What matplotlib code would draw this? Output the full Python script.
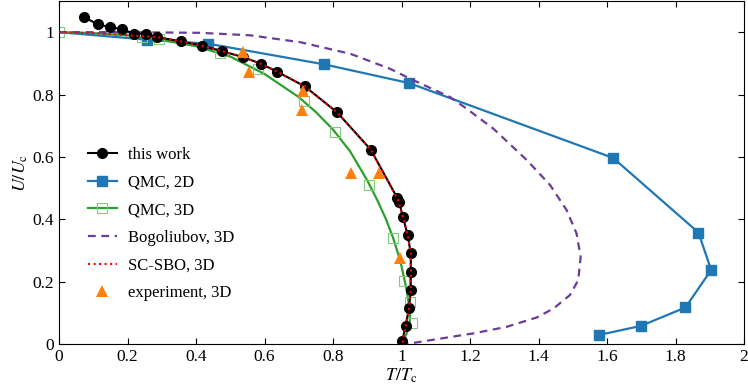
import numpy as np
import matplotlib
matplotlib.use("Agg")
import matplotlib.pyplot as plt
from matplotlib.ticker import FuncFormatter

plt.rcParams['font.family'] = ['Liberation Serif', 'DejaVu Serif']
plt.rcParams['mathtext.fontset'] = 'stix'

# this work
tw_x = [0.074, 0.113, 0.149, 0.183, 0.219, 0.254, 0.287, 0.355, 0.417, 0.476, 0.538, 0.589,
        0.636, 0.718, 0.812, 0.910, 0.987, 0.993, 1.004, 1.018, 1.027, 1.027, 1.027, 1.022,
        1.012, 1.002]
tw_y = [1.048, 1.025, 1.016, 1.010, 0.995, 0.995, 0.984, 0.971, 0.957, 0.939, 0.920, 0.899,
        0.874, 0.826, 0.743, 0.624, 0.470, 0.455, 0.408, 0.350, 0.291, 0.232, 0.174, 0.117,
        0.060, 0.010]

# QMC 2D
q2_x = [0.0, 0.258, 0.436, 0.774, 1.022, 1.618, 1.867, 1.904, 1.829, 1.699, 1.577]
q2_y = [1.0, 0.976, 0.963, 0.897, 0.837, 0.597, 0.358, 0.238, 0.118, 0.059, 0.030]

# QMC 3D (markers and fitted curve)
q3_x = [0.0, 0.243, 0.293, 0.470, 0.582, 0.715, 0.806, 0.906, 0.976, 1.008, 1.025, 1.032]
q3_y = [1.0, 0.986, 0.978, 0.934, 0.881, 0.781, 0.680, 0.510, 0.341, 0.203, 0.136, 0.067]
q3c_x = [0.0, 0.1, 0.2, 0.3, 0.4, 0.5, 0.6, 0.7, 0.75, 0.8, 0.85, 0.9, 0.93, 0.955, 0.976,
         0.99, 1.0, 1.012, 1.02, 1.025, 1.024, 1.015, 1.0]
q3c_y = [1.0, 0.997, 0.99, 0.975, 0.955, 0.922, 0.866, 0.792, 0.744, 0.688, 0.618, 0.525,
         0.46, 0.40, 0.339, 0.29, 0.25, 0.19, 0.14, 0.10, 0.07, 0.035, 0.0]

# Bogoliubov 3D
bg_x = [0.0, 0.2, 0.412, 0.558, 0.704, 0.850, 0.966, 1.025, 1.142, 1.190, 1.268, 1.366,
        1.434, 1.482, 1.511, 1.523, 1.516, 1.492, 1.444, 1.395, 1.307, 1.210, 1.112, 1.05,
        1.005]
bg_y = [1.0, 1.0, 0.998, 0.990, 0.968, 0.931, 0.883, 0.851, 0.792, 0.755, 0.691, 0.590,
        0.510, 0.430, 0.355, 0.280, 0.206, 0.158, 0.115, 0.086, 0.056, 0.035, 0.018, 0.007,
        0.0]

# SC-SBO 3D
sb_x = [0.0, 0.1, 0.2, 0.287, 0.355, 0.417, 0.476, 0.538, 0.589, 0.636, 0.718, 0.812, 0.910,
        0.990, 1.004, 1.018, 1.027, 1.027, 1.027, 1.022, 1.012, 1.002]
sb_y = [1.0, 0.997, 0.99, 0.984, 0.971, 0.957, 0.939, 0.920, 0.899, 0.874, 0.826, 0.743, 0.624,
        0.462, 0.408, 0.350, 0.291, 0.232, 0.174, 0.117, 0.060, 0.0]

# experiment 3D
ex_x = [0.536, 0.556, 0.711, 0.710, 0.853, 0.935, 0.996]
ex_y = [0.936, 0.872, 0.811, 0.752, 0.549, 0.549, 0.275]

fig = plt.figure(figsize=(7.48, 3.92), dpi=100)
ax = fig.add_axes([0.0789, 0.1217, 0.9158, 0.8758])

ax.plot(tw_x, tw_y, '-o', color='black', lw=1.5, ms=7, label='this work', zorder=3)
ax.plot(q2_x, q2_y, '-s', color='#1f77b4', lw=1.6, ms=6.5, markevery=list(range(1, len(q2_x))),
        label='QMC, 2D', zorder=2)
ax.plot(q3c_x, q3c_y, '-', color='#2ca02c', lw=1.6, zorder=2)
ax.plot(q3_x, q3_y, 's', mfc='none', mec='#7fcc7f', ms=7, mew=0.8, zorder=2)
ax.plot([], [], '-s', color='#2ca02c', lw=1.6, mfc='none', mec='#7fcc7f', ms=7, mew=0.8,
        label='QMC, 3D')
ax.plot(bg_x, bg_y, '--', color='#6a3d9a', lw=1.6, dashes=(3.5, 2.5), label='Bogoliubov, 3D', zorder=2)
ax.plot(sb_x, sb_y, ':', color='red', lw=1.5, label='SC-SBO, 3D', zorder=4)
ax.plot(ex_x, ex_y, '^', color='#ff7f0e', ms=8, mew=0, label='experiment, 3D', zorder=5)

ax.set_xlim(0, 2)
ax.set_ylim(0, 1.1)
ax.set_xticks(np.arange(0, 2.01, 0.2))
ax.set_yticks(np.arange(0, 1.01, 0.2))
fmt = FuncFormatter(lambda v, p: '%g' % round(v, 2))
ax.xaxis.set_major_formatter(fmt)
ax.yaxis.set_major_formatter(fmt)
ax.tick_params(direction='in', top=True, right=True, length=4.5, labelsize=12.5)
ax.set_xlabel(r'$T/T_\mathrm{c}$', fontsize=13, labelpad=1)
ax.set_ylabel(r'$U/U_\mathrm{c}$', fontsize=13, labelpad=2)

ax.legend(loc='center left', bbox_to_anchor=(0.02, 0.35), frameon=False, fontsize=12,
          handlelength=1.75, handletextpad=0.65, labelspacing=0.7)

fig.savefig('out.png', dpi=100)
